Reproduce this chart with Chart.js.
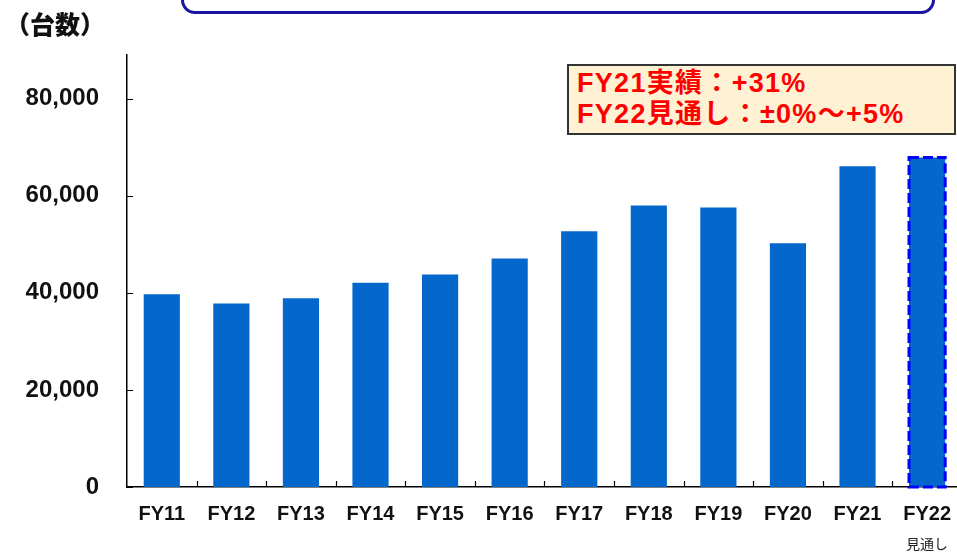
<!DOCTYPE html>
<html lang="ja">
<head>
<meta charset="utf-8">
<script src="https://cdn.jsdelivr.net/npm/chart.js@4/dist/chart.umd.min.js"></script>
<style>
  body { margin: 0; background: #fff; overflow: hidden; width: 957px; height: 555px; position: relative; }
  #wrap { position: absolute; left: 0; top: 0; width: 966px; height: 555px; }
  .unit {
    position: absolute; left: 5px; top: 8px;
    font: 900 25px "Noto Sans CJK JP", sans-serif; line-height: 30px; color: #111;
  }
  .frame {
    position: absolute; left: 181px; top: -40px; width: 748px; height: 48px;
    border: 3px solid #1a14a0; border-radius: 14px;
  }
  .note {
    position: absolute; left: 567px; top: 64px; width: 377px; height: 65px;
    background: #fff2d4; border: 2px solid #333;
    color: #ff0000; font: bold 27px "Liberation Sans", "Noto Sans CJK JP", sans-serif;
    letter-spacing: 1.3px; line-height: 31px; padding: 2px 0 0 8px; box-sizing: content-box;
    white-space: nowrap;
  }
</style>
</head>
<body>
<div id="wrap"><canvas id="chart" width="966" height="555"></canvas></div>
<div class="unit">（台数）</div>
<div class="frame"></div>
<div class="note">FY21実績：+31%<br>FY22見通し：±0%～+5%</div>
<script>
const categories = ['FY11', 'FY12', 'FY13', 'FY14', 'FY15', 'FY16', 'FY17', 'FY18', 'FY19', 'FY20', 'FY21', 'FY22']
const units = [39700, 37800, 38900, 42100, 43800, 47100, 52700, 58000, 57600, 50200, 66100, 67900]
const yTicks = [0, 20000, 40000, 60000, 80000]
const forecastIndex = 11
const forecastNote = '見通し'

const tickFont = { family: '"Liberation Sans", Arial, sans-serif', weight: 'bold' }

// inward tick marks, dashed outline on the forecast bar and its caption
const axisDecor = {
  id: 'axis-decor',
  afterDatasetsDraw(chart) {
    const { ctx, chartArea, scales } = chart
    const x = scales.x
    const y = scales.y
    ctx.save()
    ctx.strokeStyle = '#000'
    ctx.lineWidth = 1.2
    ctx.beginPath()
    yTicks.forEach(v => {
      const py = Math.round(y.getPixelForValue(v)) + 0.5
      ctx.moveTo(chartArea.left, py)
      ctx.lineTo(chartArea.left + 6, py)
    })
    for (let i = 0; i < categories.length - 1; i++) {
      const px = Math.round((x.getPixelForValue(i) + x.getPixelForValue(i + 1)) / 2) + 0.5
      ctx.moveTo(px, chartArea.bottom - 1)
      ctx.lineTo(px, chartArea.bottom - 6)
    }
    ctx.stroke()

    const bar = chart.getDatasetMeta(0).data[forecastIndex]
    const half = bar.width / 2
    ctx.strokeStyle = '#0000ff'
    ctx.lineWidth = 3
    ctx.setLineDash([10, 4])
    ctx.strokeRect(bar.x - half, bar.y, bar.width, bar.base - bar.y)
    ctx.setLineDash([])

    ctx.fillStyle = '#222'
    ctx.font = '14px "Noto Sans CJK JP", sans-serif'
    ctx.textAlign = 'center'
    ctx.textBaseline = 'middle'
    ctx.fillText(forecastNote, x.getPixelForValue(forecastIndex), 544)
    ctx.restore()
  }
}

new Chart(document.getElementById('chart'), {
  type: 'bar',
  data: {
    labels: categories,
    datasets: [{
      data: units,
      backgroundColor: '#0467cc',
      borderWidth: 0,
      barPercentage: 0.52,
      categoryPercentage: 1
    }]
  },
  options: {
    responsive: false,
    animation: false,
    layout: { padding: { top: 55, right: 0, left: 0, bottom: 0 } },
    scales: {
      x: {
        offset: true,
        grid: { display: false, drawTicks: false },
        border: { color: '#000', width: 1.5 },
        ticks: { color: '#111', font: { ...tickFont, size: 20 }, padding: 15 },
        afterFit(scale) { scale.height = 68 }
      },
      y: {
        min: 0,
        max: 89000,
        afterBuildTicks(scale) { scale.ticks = yTicks.map(value => ({ value })) },
        grid: { display: false, drawTicks: false },
        border: { color: '#000', width: 1.5 },
        ticks: {
          color: '#111',
          font: { ...tickFont, size: 24 },
          padding: 28,
          callback: v => v.toLocaleString('en-US')
        },
        afterFit(scale) { scale.width = 127 }
      }
    },
    plugins: {
      legend: { display: false },
      tooltip: { enabled: false }
    }
  },
  plugins: [axisDecor]
})
</script>
</body>
</html>
